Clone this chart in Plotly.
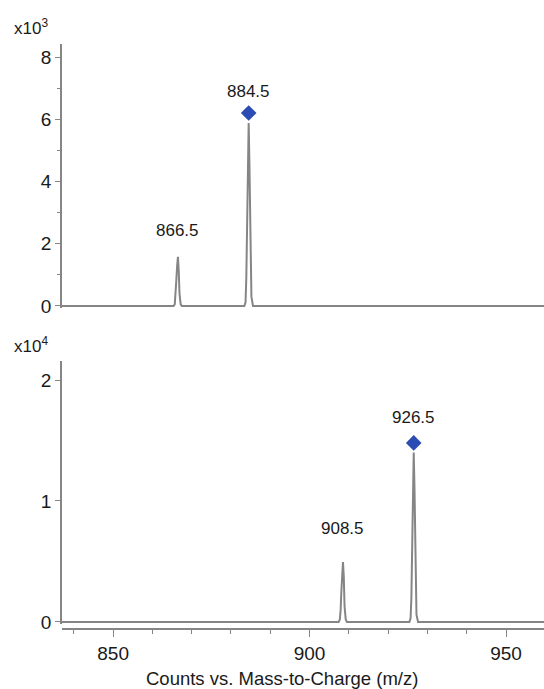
import plotly.graph_objects as go

# ---- data ----
# top spectrum: counts in units of 10^3
top_mz = [837.0, 865.4, 865.7, 865.9, 866.1, 866.3, 866.5, 866.7, 866.9, 867.2, 867.5,
          883.4, 883.7, 883.9, 884.1, 884.3, 884.5, 884.7, 884.9, 885.2, 885.6, 960.0]
top_counts = [0, 0, 0.06, 0.35, 0.85, 1.3, 1.58, 1.15, 0.4, 0.05, 0,
              0, 0.12, 0.9, 2.7, 4.8, 5.88, 4.5, 2.1, 0.3, 0, 0]
# bottom spectrum: counts in units of 10^4
bot_mz = [837.0, 907.4, 907.7, 907.9, 908.1, 908.3, 908.5, 908.7, 908.9, 909.2, 909.5,
          925.4, 925.7, 925.9, 926.1, 926.3, 926.5, 926.7, 926.9, 927.2, 927.6, 960.0]
bot_counts = [0, 0, 0.02, 0.1, 0.26, 0.42, 0.496, 0.38, 0.13, 0.02, 0,
              0, 0.03, 0.2, 0.62, 1.15, 1.40, 1.1, 0.5, 0.06, 0, 0]

top_peaks_mz = [866.5, 884.5]
top_peaks_lbl = ["866.5", "884.5"]
top_label_y = [2.41, 6.88]
top_marker_mz = [884.5]
top_marker_y = [6.2]

bot_peaks_mz = [908.5, 926.5]
bot_peaks_lbl = ["908.5", "926.5"]
bot_label_y = [0.77, 1.69]
bot_marker_mz = [926.5]
bot_marker_y = [1.48]

x_range = [837.0, 959.65]
x_major = [850, 900, 950]

FONT = "Liberation Sans, Arial, sans-serif"
LINE = "#858585"
AX = "#858585"
BLUE = "#2b4db3"
TXT = "#1a1a1a"

fig = go.Figure()
fig.add_trace(go.Scatter(x=top_mz, y=top_counts, mode="lines",
                         line=dict(color=LINE, width=2), xaxis="x", yaxis="y",
                         showlegend=False, hoverinfo="skip"))
fig.add_trace(go.Scatter(x=top_marker_mz, y=top_marker_y, mode="markers",
                         marker=dict(symbol="diamond", size=12, color=BLUE),
                         xaxis="x", yaxis="y", showlegend=False))
fig.add_trace(go.Scatter(x=bot_mz, y=bot_counts, mode="lines",
                         line=dict(color=LINE, width=2), xaxis="x2", yaxis="y2",
                         showlegend=False, hoverinfo="skip"))
fig.add_trace(go.Scatter(x=bot_marker_mz, y=bot_marker_y, mode="markers",
                         marker=dict(symbol="diamond", size=12, color=BLUE),
                         xaxis="x2", yaxis="y2", showlegend=False))

annotations = []
for mz, lbl, yy in zip(top_peaks_mz, top_peaks_lbl, top_label_y):
    annotations.append(dict(x=mz, y=yy, xref="x", yref="y", text=lbl, showarrow=False,
                            font=dict(family=FONT, size=17, color=TXT)))
for mz, lbl, yy in zip(bot_peaks_mz, bot_peaks_lbl, bot_label_y):
    annotations.append(dict(x=mz, y=yy, xref="x2", yref="y2", text=lbl, showarrow=False,
                            font=dict(family=FONT, size=17, color=TXT)))
annotations.append(dict(x=-0.104, y=1.029, xref="paper", yref="paper", xanchor="left",
                        yanchor="middle", text="x10<sup>3</sup>", showarrow=False,
                        font=dict(family=FONT, size=17, color=TXT)))
annotations.append(dict(x=-0.104, y=0.4855, xref="paper", yref="paper", xanchor="left",
                        yanchor="middle", text="x10<sup>4</sup>", showarrow=False,
                        font=dict(family=FONT, size=17, color=TXT)))
annotations.append(dict(x=0.456, y=-0.0838, xref="paper", yref="paper", xanchor="center",
                        yanchor="middle", text="Counts vs. Mass-to-Charge (m/z)",
                        showarrow=False, font=dict(family=FONT, size=18.5, color=TXT)))

fig.update_layout(
    width=544, height=689,
    margin=dict(l=62, r=0, t=44, b=60),
    paper_bgcolor="white", plot_bgcolor="white",
    font=dict(family=FONT, size=17, color=TXT),
    annotations=annotations,
    xaxis=dict(domain=[0, 1], anchor="y", range=x_range, matches="x2",
               showline=False, showticklabels=False, ticks="", showgrid=False,
               zeroline=False),
    yaxis=dict(domain=[0.549, 1.0], anchor="x", range=[-0.06, 8.42],
               tickvals=[0, 2, 4, 6, 8], ticks="outside", ticklen=5, tickwidth=1,
               tickcolor=AX, showline=True, linecolor=AX, linewidth=1.5,
               showgrid=False, zeroline=False,
               minor=dict(tickvals=[1, 3, 5, 7], ticks="outside", ticklen=3,
                          tickcolor=AX, showgrid=False),
               tickfont=dict(family=FONT, size=19, color=TXT)),
    xaxis2=dict(domain=[0, 1], anchor="free", position=0, range=x_range,
                tickvals=x_major, ticks="outside", ticklen=7, tickwidth=1,
                tickcolor=AX, showline=True, linecolor=AX, linewidth=1.5,
                showgrid=False, zeroline=False,
                minor=dict(dtick=10, tick0=840, ticks="outside", ticklen=4,
                           tickcolor=AX, showgrid=False),
                tickfont=dict(family=FONT, size=19, color=TXT)),
    yaxis2=dict(domain=[0.0089, 0.4581], anchor="x2", range=[-0.015, 2.157],
                tickvals=[0, 1, 2], ticks="outside", ticklen=5, tickwidth=1,
                tickcolor=AX, showline=True, linecolor=AX, linewidth=1.5,
                showgrid=False, zeroline=False,
                tickfont=dict(family=FONT, size=19, color=TXT)),
)

fig.write_html("out.html")
